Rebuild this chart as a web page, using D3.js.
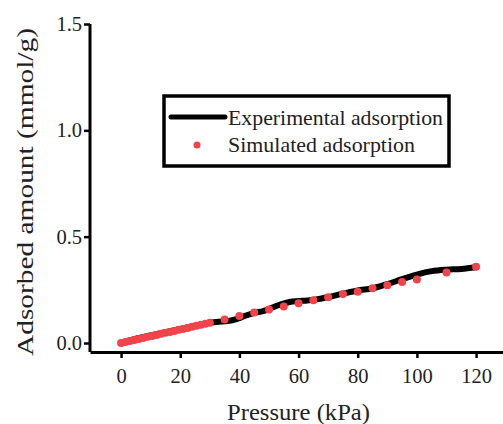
<!DOCTYPE html>
<html>
<head>
<meta charset="utf-8">
<script src="https://cdn.jsdelivr.net/npm/d3@7"></script>
<style>
  body { margin: 0; background: #fff; }
  svg { display: block; font-family: "Liberation Serif", "Times New Roman", serif; }
</style>
</head>
<body>
<div id="chart"></div>
<script>
// experimental isotherm (black line)
var expP = [0, 2, 5, 10, 15, 20, 25, 30, 33, 36, 39, 42, 45, 48, 51, 54, 57, 60, 63, 66, 70, 75, 80, 85, 90, 95, 100, 105, 110, 115, 120];
var expQ = [0, 0.008, 0.02, 0.036, 0.051, 0.066, 0.081, 0.095, 0.1, 0.103, 0.112, 0.128, 0.142, 0.15, 0.166, 0.182, 0.193, 0.197, 0.2, 0.205, 0.216, 0.232, 0.247, 0.257, 0.277, 0.3, 0.322, 0.338, 0.345, 0.348, 0.356];

// simulated points (red dots)
var simP = [0, 1.5, 3, 4.5, 6, 7.5, 9, 10.5, 12, 13.5, 15, 16.5, 18, 19.5, 21, 22.5, 24, 25.5, 27, 28.5, 30,
            35, 40, 45, 50, 55, 60, 65, 70, 75, 80, 85, 90, 95, 100, 110, 120];
var simQ = [0, 0.005, 0.01, 0.014, 0.019, 0.024, 0.029, 0.033, 0.038, 0.043, 0.048, 0.052, 0.057, 0.062, 0.066, 0.071, 0.076, 0.081, 0.086, 0.09, 0.095,
            0.111, 0.127, 0.143, 0.157, 0.172, 0.187, 0.201, 0.215, 0.23, 0.241, 0.257, 0.271, 0.287, 0.299, 0.331, 0.359];

var xTicks = [0, 20, 40, 60, 80, 100, 120];
var yTicks = [0.0, 0.5, 1.0, 1.5];

var width = 503, height = 424;
var svg = d3.select("#chart").append("svg")
  .attr("width", width)
  .attr("height", height);

var xScale = d3.scaleLinear().domain([-10.5, 129.1]).range([90, 503]);
var yScale = d3.scaleLinear().domain([-0.0423, 1.5]).range([352, 24]);

// axes
var xAxis = svg.append("g")
  .attr("transform", "translate(0,352)")
  .call(d3.axisBottom(xScale).tickValues(xTicks).tickSize(6).tickPadding(10).tickSizeOuter(0));
var yAxis = svg.append("g")
  .attr("transform", "translate(90,0)")
  .call(d3.axisLeft(yScale).tickValues(yTicks).tickSize(6).tickPadding(2).tickSizeOuter(0)
    .tickFormat(d3.format(".1f")));

[xAxis, yAxis].forEach(function(a){
  a.select(".domain").attr("stroke", "#000").attr("stroke-width", 3);
  a.selectAll(".tick line").attr("stroke", "#000").attr("stroke-width", 2.5);
  a.selectAll(".tick text").attr("fill", "#222")
    .style("font-family", "Liberation Serif").style("font-size", "20.5px");
});
yAxis.select(".domain").attr("d", "M0," + yScale(1.5) + "V352");

// experimental line
var line = d3.line()
  .x(function(d, i){ return xScale(expP[i]); })
  .y(function(d, i){ return yScale(expQ[i]); })
  .curve(d3.curveMonotoneX);
svg.append("path")
  .datum(expQ)
  .attr("d", line)
  .attr("fill", "none")
  .attr("stroke", "#000")
  .attr("stroke-width", 6)
  .attr("stroke-linecap", "round");

// simulated dots
svg.append("g").selectAll("circle").data(simQ).enter().append("circle")
  .attr("cx", function(d, i){ return xScale(simP[i]); })
  .attr("cy", function(d){ return yScale(d); })
  .attr("r", 4)
  .attr("fill", "#f2434a");

// axis titles
svg.append("text")
  .attr("x", 298.5).attr("y", 420)
  .attr("text-anchor", "middle")
  .attr("textLength", 143).attr("lengthAdjust", "spacingAndGlyphs")
  .style("font-size", "24px").attr("fill", "#222")
  .text("Pressure (kPa)");

svg.append("text")
  .attr("transform", "translate(33,192) rotate(-90)")
  .attr("text-anchor", "middle")
  .attr("textLength", 328).attr("lengthAdjust", "spacingAndGlyphs")
  .style("font-size", "24px").attr("fill", "#222")
  .text("Adsorbed amount (mmol/g)");

// legend
var lg = svg.append("g");
lg.append("rect")
  .attr("x", 164).attr("y", 96).attr("width", 285).attr("height", 70)
  .attr("fill", "#fff").attr("stroke", "#000").attr("stroke-width", 3.5);
lg.append("line")
  .attr("x1", 171).attr("x2", 225).attr("y1", 117).attr("y2", 117)
  .attr("stroke", "#000").attr("stroke-width", 5).attr("stroke-linecap", "round");
lg.append("circle")
  .attr("cx", 197).attr("cy", 145).attr("r", 3.5).attr("fill", "#f2434a");
lg.append("text")
  .attr("x", 228).attr("y", 125)
  .attr("textLength", 215).attr("lengthAdjust", "spacingAndGlyphs")
  .style("font-size", "21px").attr("fill", "#222")
  .text("Experimental adsorption");
lg.append("text")
  .attr("x", 228).attr("y", 152)
  .attr("textLength", 187).attr("lengthAdjust", "spacingAndGlyphs")
  .style("font-size", "21px").attr("fill", "#222")
  .text("Simulated adsorption");
</script>
</body>
</html>
